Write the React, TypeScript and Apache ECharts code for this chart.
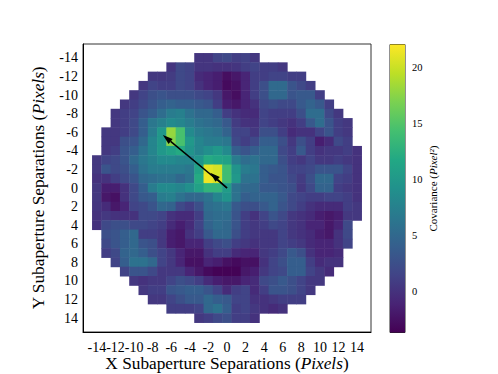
import React, { useEffect, useRef } from "react";
import * as echarts from "echarts";

const separations = Array.from({ length: 31 }, (_, i) => String(i - 15));
const colorTicks = [0, 5, 10, 15, 20];
const colorMin = -3.67;
const colorMax = 22.1;
const viridis = ["#440154","#482475","#414487","#355f8d","#2a788e","#21918c","#22a884","#44bf70","#7ad151","#bddf26","#fde725"];

const rowY = [-14,-13,-12,-11,-10,-9,-8,-7,-6,-5,-4,-3,-2,-1,0,1,2,3,4,5,6,7,8,9,10,11,12,13,14];
const rowStart = [-3,-6,-8,-9,-10,-11,-12,-12,-13,-13,-13,-14,-14,-14,-14,-14,-14,-14,-14,-13,-13,-13,-12,-11,-10,-9,-8,-6,-3];
const rowValues: number[][] = [
  [0.3,0.3,1.5,2,1,1.3,0.5],
  [0.3,2,1.5,0.3,0.3,0,0,0.3,1,1.5,1,1,0.5],
  [0.5,0.5,0.8,2,1.5,-0.5,-1,-1.5,-2.7,-2,-1,1,1,1.5,1.5,1,1],
  [0.5,1.5,1,1,2,1.5,0,-1,-1.5,-3,-2.5,-1,1,2.5,5.2,5.2,3,2,1],
  [0.5,1.5,2.5,3,2.5,2.5,2.5,2,1.5,0.5,-2,-2.7,-1,1,2.5,5,5,3,3.5,3.5,1],
  [0.5,1,2,3,4,4.5,4,4,3.5,3,1,-1.5,-2,-1,0,2,2.5,2,2,3.5,4.5,3.5,1],
  [0.5,1,1.5,3,4,5.5,7,7.5,6,5,5,4,1,0,-0.5,-0.5,1.5,1,1,1,2.5,5.5,5.5,2,0.5],
  [0.5,1,2,4,6.5,7.5,8.5,8,7,6,5.5,5,3.5,0.8,0,0,1.5,1,0.5,0,1,3.5,5.5,3,1,0.5],
  [0.5,0.5,1,2,4,7,10,18,14.5,8.5,7,6.5,6,4.5,1.5,1.5,0.5,2.5,2.5,1,-0.5,0,0,1.5,3,1,0.5],
  [0.5,0.5,2.5,3,5,8,10,17.5,14.5,10,8,7,7,6.5,2,1,2,4,4,2.5,0.5,2.5,1,-1.5,-0.5,2,1],
  [0.5,1,3,4,6,8,10,11,12,9.5,8,9,10,8.5,4,3,4,5,5,2,1,3.5,1,0,0.5,0.5,1,0],
  [0.5,1.5,2,3,5,6.5,7.5,8.5,8.5,8,8,9.5,12,11.5,11,7,5.5,6,5,5,2.5,1,0.5,1.5,0.5,0.5,1,0.5,0],
  [0.5,3,2,2.5,4,6,7,7,7,7,6.5,11,21,20.5,14,9.5,7,6.5,4,3.5,3,1.5,1.5,2,3,3,3,1.5,0],
  [0,0,1,2,3,5,5.5,6,6,5,6,12,21.5,20.5,14,10,6,6,4,3,3,2,0.8,2.5,5,5,1.5,1,0],
  [0.5,-1.5,-1.5,0,2,4,7,8.5,8.5,8,9,11,13,13,10.5,6,5,5,3.5,3.5,3,2.5,0.5,2,4.5,4.5,1,0.5,0],
  [0.5,-2,-2.5,0,2,3.5,4,7,7.5,6,5,5,6,8,9.5,6,4,4.5,4.5,4.5,3.5,2,1.5,1,1,1.5,1.5,1,0],
  [0.3,-0.5,-2,-1,1.5,2,3,5,4.5,2,1,2.5,5.5,6,6.5,3.5,2.5,2.5,3.5,4.5,3,2,1,0,-0.5,-0.5,-0.5,1,0.5],
  [0,0.5,0,0,0,2,2,1.5,0,-0.5,-0.5,1,5,5.5,5.5,3,1,0,1.5,3,2,0.5,0,-0.5,-1.5,-2,-1.5,0.5,0.5],
  [0,2,2.5,2.5,2,2,1.5,1,-0.5,-1.5,-0.5,1.5,4.5,5.5,5,3,1,0.5,1,2,1.5,0.5,0,-1,-1,-2,-1,2],
  [2.5,3,4,5,1,1,0.5,-1.5,-2,0,1,3.5,5,5,2.5,1,0.5,0.5,0.5,1.5,0.5,0,-0.5,-1.5,-2,0,2],
  [2,3,4,5,3,2.5,0.5,-1.5,-2,-1,-1,1,2,2.5,1,0.5,0,0.5,0.5,1.5,1,0.5,-0.5,-1,-1,0,1.5],
  [1,2,4.5,5,4,2.5,1.5,0.5,-1,-2,-2,0,1,1,-0.5,-1,-1,0.5,1,2,3.5,2.5,0,-1,-1,-0.5],
  [1.5,4,6,6,5,1.5,0.5,-1,-2.5,-2.5,-1,-1.5,-2.5,-3,-2.5,-2.5,0,1.5,2.5,4,4,1,-0.5,0,0],
  [1.5,3,3,2,0.5,0.5,0.5,-1,-2,-3,-3.5,-3.5,-3.5,-2,-1.5,0.5,1.5,2,4,4,1.5,0.5,-0.5],
  [0.5,0,0.5,0.5,1.5,2.5,2,1,-0.5,-1.5,-2,-2,-1,-0.5,2,2.5,3.5,2.5,1.5,0.5,0.5],
  [0.5,1,1,3,3.5,4,4,3,1.5,-0.5,1,1.5,-0.5,1,3,3,2.5,1.5,0.5],
  [0.5,0.5,1.5,2.5,3.5,3.5,5,4,3.5,1.5,1.5,0,0,0.5,1,1,1],
  [1,1,1,1.5,5,6,4,1,1.5,0.5,0,-0.5,0],
  [0.5,1,2,2.5,1,1,0],
];
const arrowTips = [[-6.9,-5.7],[-1.8,-1.65]];

const serif = "Liberation Serif";
const axisName = (a: string, b: string, c: string) => `{a|${a}}{b|${b}}{a|${c}}`;
const nameRich = (size: number) => ({
  a: { fontFamily: serif, fontSize: size, color: "#000" },
  b: { fontFamily: serif, fontSize: size, fontStyle: "italic", color: "#000" },
});

const cells: number[][] = [];
rowValues.forEach((vals, r) => vals.forEach((v, i) => {
  cells.push([rowStart[r] + i + 15, rowY[r] + 15, v]);
}));

const isEvenTick = (index: number) => index % 2 === 1;
const grid = { left: 83, top: 44, width: 288, height: 288, outerBoundsMode: "none" };

export default function App() {
  const ref = useRef<HTMLDivElement>(null);
  useEffect(() => {
    document.body.style.margin = "0";
    const chart = echarts.init(ref.current!, null, { renderer: "svg" });
    chart.setOption({
      animation: false,
      backgroundColor: "#fff",
      grid: [
        { ...grid, show: true, borderColor: "#333", borderWidth: 1, backgroundColor: "transparent" },
        { ...grid },
        { left: 390, top: 44.5, width: 15, height: 288, show: true, borderColor: "#222", borderWidth: 1, outerBoundsMode: "none" },
      ],
      visualMap: { show: false, min: colorMin, max: colorMax, dimension: 2, seriesIndex: 0, inRange: { color: viridis } },
      xAxis: [
        {
          type: "category", gridIndex: 0, data: separations, position: "bottom",
          axisLine: { lineStyle: { color: "#000", width: 1 } },
          axisTick: { interval: isEvenTick, alignWithLabel: true, length: 3.5, lineStyle: { color: "#000", width: 0.8 } },
          axisLabel: { interval: isEvenTick, hideOverlap: false, fontFamily: serif, fontSize: 14, color: "#000", margin: 8 },
          name: axisName("X Subaperture Separations (", "Pixels", ")"),
          nameLocation: "middle", nameGap: 23, nameMoveOverlap: false, nameTextStyle: { rich: nameRich(17.3) },
          splitLine: { show: false },
        },
        { type: "value", gridIndex: 1, min: -15.5, max: 15.5, show: false },
        { type: "value", gridIndex: 2, min: 0, max: 1, show: false },
      ],
      yAxis: [
        {
          type: "category", gridIndex: 0, data: separations, inverse: true,
          axisLine: { lineStyle: { color: "#000", width: 1 } },
          axisTick: { interval: isEvenTick, alignWithLabel: true, length: 3.5, lineStyle: { color: "#000", width: 0.8 } },
          axisLabel: { interval: isEvenTick, hideOverlap: false, fontFamily: serif, fontSize: 14, color: "#000", margin: 5 },
          name: axisName("Y Subaperture Separations (", "Pixels", ")"),
          nameLocation: "middle", nameGap: 36, nameMoveOverlap: false, nameRotate: 90, nameTextStyle: { rich: nameRich(17.3) },
          splitLine: { show: false },
        },
        { type: "value", gridIndex: 1, min: -15.5, max: 15.5, inverse: true, show: false },
        {
          type: "value", gridIndex: 2, min: colorMin, max: colorMax, position: "right",
          axisLine: { show: false },
          axisTick: { show: true, length: 3.5, customValues: colorTicks, lineStyle: { color: "#000", width: 0.8 } },
          axisLabel: { customValues: colorTicks, fontFamily: serif, fontSize: 10.5, color: "#000", margin: 7 },
          splitLine: { show: false },
          name: axisName("Covariance (", "Pixel²", ")"),
          nameLocation: "middle", nameGap: 22, nameMoveOverlap: false, nameRotate: 90, nameTextStyle: { rich: nameRich(11) },
        },
      ],
      series: [
        {
          type: "heatmap", xAxisIndex: 0, yAxisIndex: 0, data: cells, progressive: 0,
          itemStyle: { borderWidth: 0 }, emphasis: { disabled: true },
        },
        {
          type: "custom", xAxisIndex: 1, yAxisIndex: 1, data: arrowTips, z: 5, silent: true,
          renderItem: (_: any, api: any) => {
            const o = api.coord([0, 0]);
            const t = api.coord([api.value(0), api.value(1)]);
            const dx = t[0] - o[0], dy = t[1] - o[1];
            const len = Math.hypot(dx, dy);
            const ux = dx / len, uy = dy / len;
            const bx = t[0] - ux * 10, by = t[1] - uy * 10;
            return {
              type: "group",
              children: [
                { type: "line", shape: { x1: o[0], y1: o[1], x2: bx, y2: by }, style: { stroke: "#000", lineWidth: 1.5 } },
                { type: "polygon", shape: { points: [t, [bx - uy * 3.2, by + ux * 3.2], [bx + uy * 3.2, by - ux * 3.2]] }, style: { fill: "#000" } },
              ],
            };
          },
        },
        {
          type: "custom", xAxisIndex: 2, yAxisIndex: 2, data: [[0, colorMin]], silent: true,
          renderItem: (_: any, api: any) => {
            const a = api.coord([0, colorMax]);
            const b = api.coord([1, colorMin]);
            return {
              type: "rect",
              shape: { x: a[0], y: a[1], width: b[0] - a[0], height: b[1] - a[1] },
              style: {
                fill: new echarts.graphic.LinearGradient(0, 1, 0, 0,
                  viridis.map((color, i) => ({ offset: i / (viridis.length - 1), color }))),
              },
            };
          },
        },
      ],
    });
    return () => chart.dispose();
  }, []);
  return <div ref={ref} style={{ width: 498, height: 374 }} />;
}
